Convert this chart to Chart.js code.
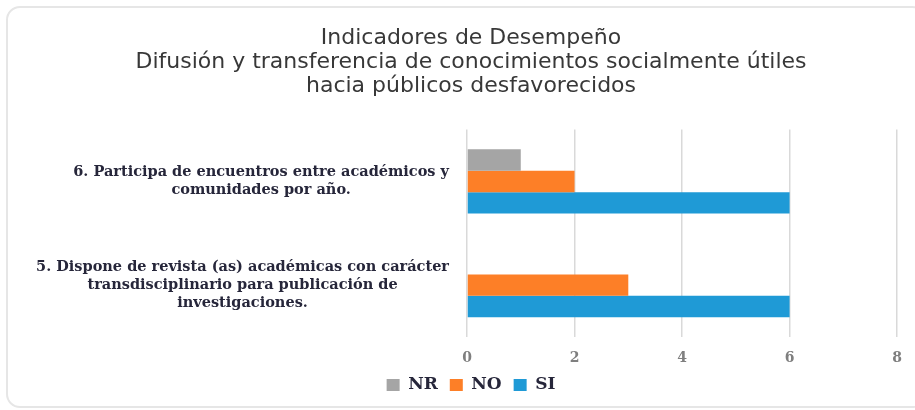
<!DOCTYPE html>
<html>
<head>
<meta charset="utf-8">
<script src="https://cdn.jsdelivr.net/npm/chart.js@4"></script>
<style>
  html, body { margin: 0; padding: 0; background: #fff; }
  #wrap { position: relative; width: 915px; height: 410px; overflow: hidden; }
  #card { position: absolute; left: 6px; top: 6px; width: 920px; height: 402px;
          border: 2px solid #e6e6e6; border-radius: 14px; box-sizing: border-box; }
  #chart { position: absolute; left: 0; top: 0; }
</style>
</head>
<body>
<div id="wrap">
  <div id="card"></div>
  <canvas id="chart" width="915" height="410"></canvas>
</div>
<script>
// categories, top to bottom
const categories = [
  ['6. Participa de encuentros entre académicos y', 'comunidades por año.'],
  ['5. Dispone de revista (as) académicas con carácter', 'transdisciplinario para publicación de', 'investigaciones.']
];

// series
const nrValues = [1, 0];
const noValues = [2, 3];
const siValues = [6, 6];

const xTicks = [0, 2, 4, 6, 8];

const titleLines = [
  'Indicadores de Desempeño',
  'Difusión y transferencia de conocimientos socialmente útiles',
  'hacia públicos desfavorecidos'
];

const serif = "'DejaVu Serif', serif";
const labelFont = 'bold 14.5px ' + serif;

// category labels: each block right aligned to the axis, lines centered inside the block
const categoryLabels = {
  id: 'categoryLabels',
  afterDraw(chart) {
    const ctx = chart.ctx;
    const y = chart.scales.y;
    const right = y.right - 18;
    const lineH = 17.7;
    ctx.save();
    ctx.font = labelFont;
    ctx.fillStyle = '#26263a';
    ctx.textAlign = 'center';
    ctx.textBaseline = 'middle';
    chart.data.labels.forEach((lines, i) => {
      const widest = Math.max(...lines.map(l => ctx.measureText(l).width));
      const cx = right - widest / 2;
      const cy = y.getPixelForTick(i);
      lines.forEach((l, j) => {
        ctx.fillText(l, cx, cy + (j - (lines.length - 1) / 2) * lineH);
      });
    });
    ctx.restore();
  }
};

new Chart(document.getElementById('chart'), {
  type: 'bar',
  data: {
    labels: categories,
    datasets: [
      { label: 'NR', data: nrValues, backgroundColor: '#a5a5a5' },
      { label: 'NO', data: noValues, backgroundColor: '#fd7f27' },
      { label: 'SI', data: siValues, backgroundColor: '#1f9ad6' }
    ]
  },
  plugins: [categoryLabels],
  options: {
    indexAxis: 'y',
    responsive: false,
    animation: false,
    barPercentage: 1,
    categoryPercentage: 0.62,
    layout: { padding: { left: 40, right: 13, top: 27, bottom: 6.5 } },
    plugins: {
      title: {
        display: true,
        text: titleLines,
        color: '#383838',
        font: { family: "'DejaVu Sans', sans-serif", size: 22, weight: 'normal', lineHeight: 1.07 },
        padding: { top: 0, bottom: 32 }
      },
      legend: {
        position: 'bottom',
        labels: {
          boxWidth: 13,
          boxHeight: 12,
          padding: 12,
          color: '#26263a',
          font: { family: serif, size: 17, weight: 'bold' }
        }
      },
      tooltip: { enabled: false }
    },
    scales: {
      x: {
        min: 0,
        max: 8,
        afterBuildTicks: s => { s.ticks = xTicks.map(v => ({ value: v })); },
        afterFit: s => { s.height = 27.5; },
        grid: { color: '#d9d9d9', lineWidth: 1.5, drawTicks: false },
        border: { display: false },
        ticks: {
          padding: 13,
          color: '#7f7f7f',
          font: { family: serif, size: 14, weight: 'bold' }
        }
      },
      y: {
        afterFit: s => { s.width = 427; },
        grid: { display: false },
        border: { display: false },
        ticks: { display: false }
      }
    }
  }
});
</script>
</body>
</html>
